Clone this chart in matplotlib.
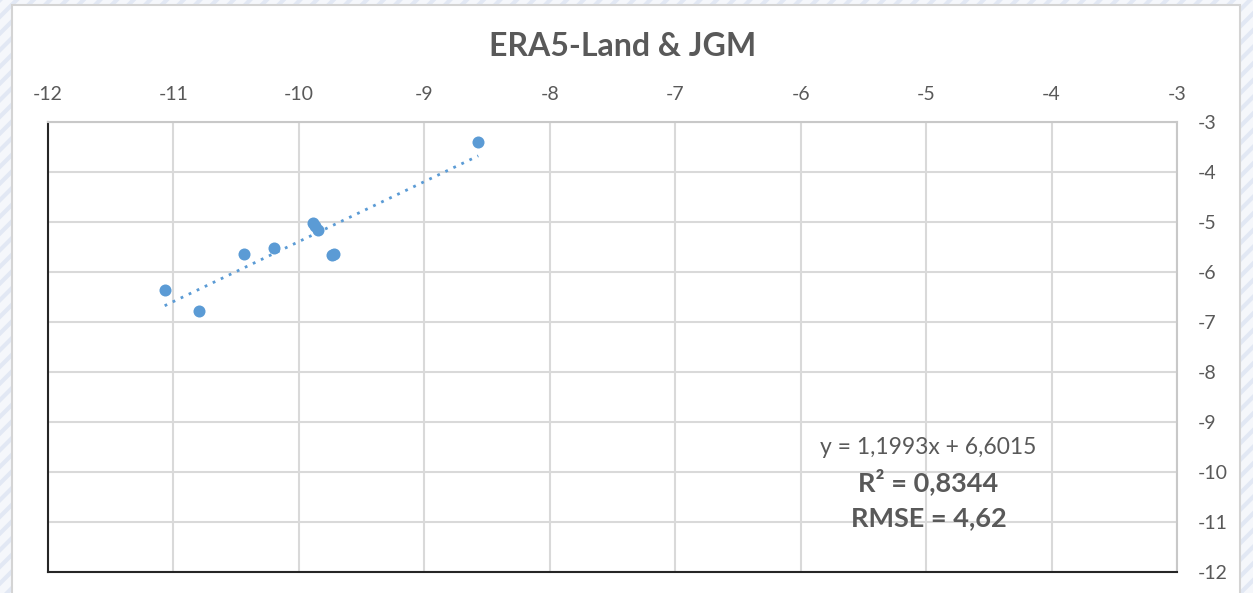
import matplotlib
matplotlib.use("Agg")
import matplotlib.pyplot as plt
from matplotlib.patches import Rectangle
import numpy as np

plt.rcParams['font.family'] = ['Lato', 'DejaVu Sans']
plt.rcParams['hatch.linewidth'] = 3.0
plt.rcParams['axes.unicode_minus'] = False

# data
era5_land = [-11.07, -10.80, -10.44, -10.20, -9.89, -9.87, -9.85, -9.74, -9.72, -8.57]
jgm = [-6.36, -6.77, -5.64, -5.51, -5.01, -5.08, -5.15, -5.66, -5.64, -3.39]

slope = 1.1993
intercept = 6.6015
eq_text = 'y = 1,1993x + 6,6015'
r2_text = 'R² = 0,8344'
rmse_text = 'RMSE = 4,62'
title = 'ERA5-Land & JGM'

x_ticks = list(range(-12, -2))
y_ticks = list(range(-12, -2))

W, H = 1253, 593
fig = plt.figure(figsize=(W / 100, H / 100), dpi=100)
fig.patch.set_facecolor('#f4f6fb')

# hatched background + white chart area
fig.patches.append(Rectangle((0, 0), 1, 1, transform=fig.transFigure,
                             facecolor='#f5f7fb', edgecolor='#e2e8f4',
                             hatch='//', linewidth=0, zorder=-2))
fig.patches.append(Rectangle((12 / W, -0.01), 1228 / W, 1 - 5 / H + 0.01,
                             transform=fig.transFigure, facecolor='white',
                             edgecolor='#d4d4d4', linewidth=1.5, zorder=-1))

ax = fig.add_axes([48 / W, 1 - 572 / H, (1177 - 48) / W, (572 - 122) / H])
ax.set_facecolor('white')

ax.scatter(era5_land, jgm, s=75, color='#5b9bd5', zorder=3, linewidths=0)

xt = np.array([min(era5_land), max(era5_land)])
ax.plot(xt, slope * xt + intercept, linestyle=(0, (1, 2.2)), color='#5b9bd5',
        linewidth=2, zorder=2)

ax.set_xlim(-12, -3)
ax.set_ylim(-12, -3)
ax.set_xticks(x_ticks)
ax.set_yticks(y_ticks)
ax.xaxis.tick_top()
ax.yaxis.tick_right()
ax.tick_params(axis='x', length=0, pad=14, labelsize=14, labelcolor='#595959')
ax.tick_params(axis='y', length=0, pad=15, labelsize=14, labelcolor='#595959')
ax.grid(True, color='#d9d9d9', linewidth=1.5)
ax.set_axisbelow(True)

for s in ['top', 'right']:
    ax.spines[s].set_color('#c8c8c8')
    ax.spines[s].set_linewidth(1.5)
for s in ['left', 'bottom']:
    ax.spines[s].set_color('#262626')
    ax.spines[s].set_linewidth(1.5)

fig.text(623 / W, 1 - 46 / H, title, ha='center', va='center',
         fontsize=23, fontweight='bold', color='#595959')

ax.text(-4.98, -9.5, eq_text, ha='center', va='center', fontsize=16.5, color='#595959')
ax.text(-4.98, -10.2, r2_text, ha='center', va='center', fontsize=19.5,
        fontweight='bold', color='#595959')
ax.text(-4.98, -10.93, rmse_text, ha='center', va='center', fontsize=19.5,
        fontweight='bold', color='#595959')

fig.savefig('out.png', dpi=100, facecolor=fig.get_facecolor())
